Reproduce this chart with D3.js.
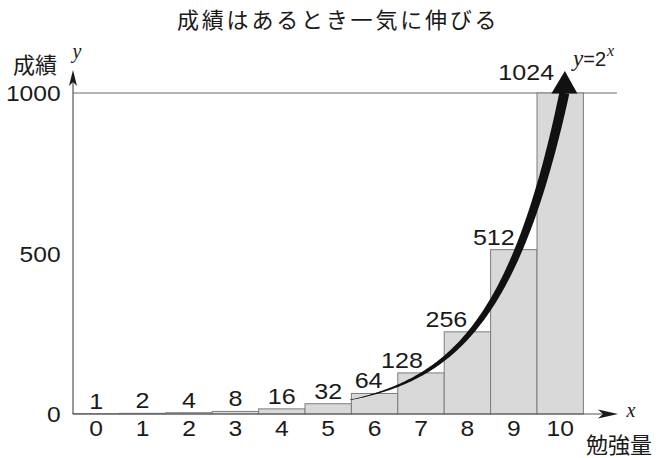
<!DOCTYPE html>
<html><head><meta charset="utf-8">
<script src="https://cdn.jsdelivr.net/npm/d3@7"></script>
<style>body{margin:0;background:#fff}</style>
</head><body><svg id="c" width="668" height="458"></svg>
<script>
// ---- data ----
const categories = [0, 1, 2, 3, 4, 5, 6, 7, 8, 9, 10];
const values = [1, 2, 4, 8, 16, 32, 64, 128, 256, 512, 1024];
const yTicks = [0, 500, 1000];
const title = "成績はあるとき一気に伸びる";
const yTitle = "成績";
const xTitle = "勉強量";

// ---- layout ----
const labelNudge = {6: -6, 7: -19, 8: -21, 9: -20, 10: -34};
const numFont = "'Liberation Sans', Arial, sans-serif";
const serif = "'Liberation Serif', 'Times New Roman', serif";
const cjk = "'Noto Sans CJK JP', sans-serif";
const ink = "#1a1a1a";

const svg = d3.select("#c");
svg.append("rect").attr("width", 668).attr("height", 458).attr("fill", "#fff");

const x = d3.scaleBand().domain(categories).range([73, 583.4]).padding(0);
const y = d3.scaleLinear().domain([0, 1000]).range([414, 93]);
const yBar = y.copy().clamp(true);
const bw = x.bandwidth();

// 1000 reference line
svg.append("line").attr("x1", 73).attr("x2", 617)
  .attr("y1", y(1000)).attr("y2", y(1000))
  .attr("stroke", "#6a6a6a").attr("stroke-width", 1);

// bars
svg.append("g").selectAll("rect").data(categories).join("rect")
  .attr("x", c => x(c))
  .attr("y", (c, i) => yBar(values[i]))
  .attr("width", bw)
  .attr("height", (c, i) => y(0) - yBar(values[i]))
  .attr("fill", "#d9d9d9").attr("stroke", "#7d7d7d").attr("stroke-width", 1);

// axes lines + arrowheads
svg.append("line").attr("x1", 73).attr("x2", 603).attr("y1", y(0)).attr("y2", y(0))
  .attr("stroke", "#555").attr("stroke-width", 1.2);
svg.append("path").attr("d", `M618,${y(0)} L598,${y(0)-4.5} L603,${y(0)} L598,${y(0)+4.5} Z`).attr("fill", ink);
svg.append("line").attr("x1", 73).attr("x2", 73).attr("y1", y(0)).attr("y2", 82)
  .attr("stroke", "#555").attr("stroke-width", 1.2);
svg.append("path").attr("d", `M73,70 L69,86 L73,82 L77,86 Z`).attr("fill", ink);

// x tick labels via axis
const gx = svg.append("g").attr("transform", `translate(0,${y(0)})`)
  .call(d3.axisBottom(x).tickSize(0).tickPadding(6));
gx.select(".domain").remove();
gx.selectAll("text").attr("font-family", numFont).attr("font-size", 22)
  .attr("fill", ink).attr("transform", "scale(1.12,1)");

// y tick labels via axis
const gy = svg.append("g").attr("transform", `translate(73,0)`)
  .call(d3.axisLeft(y).tickValues(yTicks).tickFormat(d3.format("d")).tickSize(0).tickPadding(11));
gy.select(".domain").remove();
gy.selectAll("text").attr("font-family", numFont).attr("font-size", 22)
  .attr("fill", ink).attr("dy", "0.36em").attr("transform", "scale(1.12,1)");

// value labels
svg.append("g").selectAll("text").data(categories).join("text")
  .attr("text-anchor", "middle")
  .attr("font-family", numFont).attr("font-size", 22).attr("fill", ink)
  .attr("transform", (c, i) => `translate(${x(c) + bw / 2 + (labelNudge[c] || 0)},${y(values[i]) - 5}) scale(1.14,1)`)
  .text((c, i) => values[i]);

// curve y = 2^x (tapering thick stroke)
const xc = d3.scaleLinear().domain([0, 10]).range([566 - 47.5 * 10, 566]);
const tStart = 5.45, tEnd = Math.log2(1000);
const ts = d3.range(tStart, tEnd, 0.02).concat([tEnd]);
const pts = ts.map(t => [xc(t), y(Math.pow(2, t))]);
const left = [], right = [];
pts.forEach((p, i) => {
  const a = pts[Math.max(0, i - 1)], b = pts[Math.min(pts.length - 1, i + 1)];
  let dx = b[0] - a[0], dy = b[1] - a[1];
  const L = Math.hypot(dx, dy) || 1; dx /= L; dy /= L;
  const w = 0.5 + 9.5 * Math.pow((ts[i] - tStart) / (tEnd - tStart), 1.1);
  left.push([p[0] - dy * w / 2, p[1] + dx * w / 2]);
  right.push([p[0] + dy * w / 2, p[1] - dx * w / 2]);
});
svg.append("path").attr("d", d3.line()(left.concat(right.reverse())) + "Z").attr("fill", "#111");
const tip = pts[pts.length - 1];
svg.append("path")
  .attr("d", `M${tip[0] - 13},${tip[1] + 0.5} L${tip[0] + 13},${tip[1] + 0.5} L${tip[0] + 0.5},${tip[1] - 22} Z`)
  .attr("fill", "#111");

// curve label y=2^x
const lab = svg.append("text").attr("x", 573).attr("y", 66).attr("fill", ink);
lab.append("tspan").attr("font-family", serif).attr("font-style", "italic").attr("font-size", 23).text("y");
lab.append("tspan").attr("font-family", numFont).attr("font-size", 20).text("=2");
lab.append("tspan").attr("font-family", serif).attr("font-style", "italic").attr("font-size", 16).attr("dx", 1).attr("dy", -10).text("x");

// axis letters
svg.append("text").attr("x", 631).attr("y", 417).attr("text-anchor", "middle")
  .attr("font-family", serif).attr("font-style", "italic").attr("font-size", 20).attr("fill", ink).text("x");
svg.append("text").attr("x", 77).attr("y", 58).attr("text-anchor", "middle")
  .attr("font-family", serif).attr("font-style", "italic").attr("font-size", 20).attr("fill", ink).text("y");

// titles
svg.append("text").attr("x", 57).attr("y", 63).attr("text-anchor", "end").attr("dominant-baseline", "central")
  .attr("font-family", cjk).attr("font-size", 22).attr("fill", ink).text(yTitle);
svg.append("text").attr("x", 619).attr("y", 443).attr("text-anchor", "middle").attr("dominant-baseline", "central")
  .attr("font-family", cjk).attr("font-size", 22).attr("fill", ink).text(xTitle);
svg.append("text").attr("x", 177).attr("y", 18).attr("dominant-baseline", "central")
  .attr("font-family", cjk).attr("font-size", 22).attr("letter-spacing", 2.8).attr("fill", ink).text(title);
</script>
</body></html>
